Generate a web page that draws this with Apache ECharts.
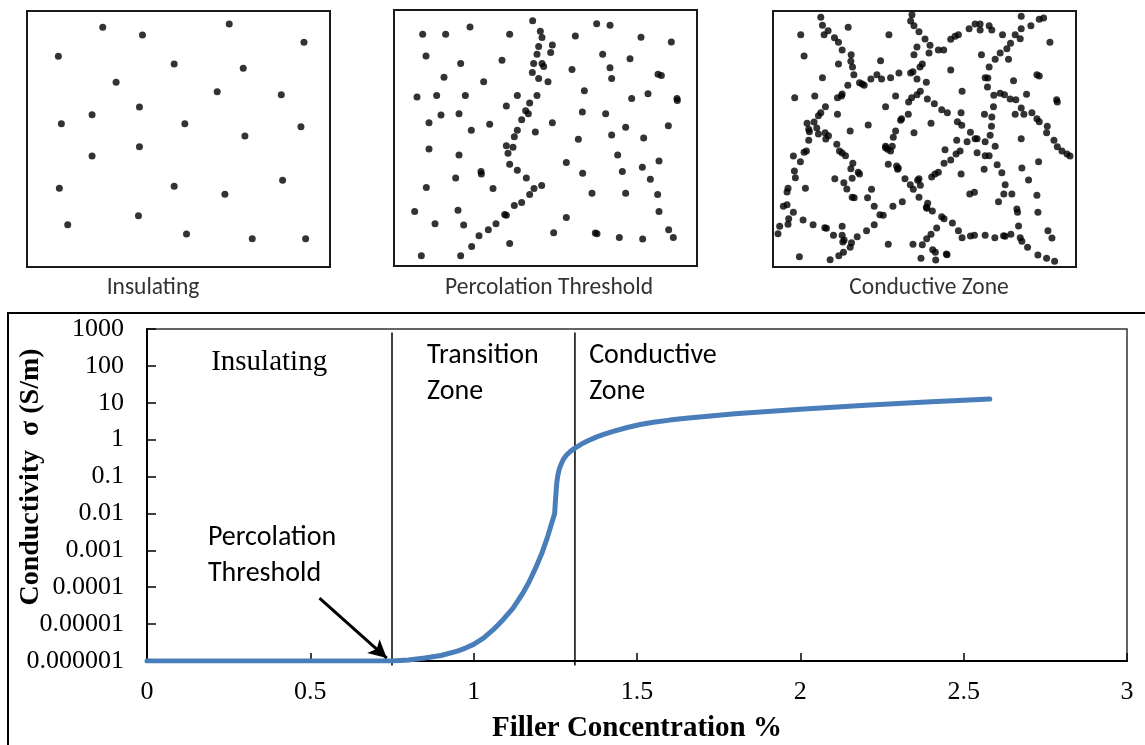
<!DOCTYPE html>
<html>
<head>
<meta charset="utf-8">
<title>Conductivity vs filler concentration</title>
<script src="https://cdn.jsdelivr.net/npm/echarts@6/dist/echarts.min.js"></script>
<style>
  html, body { margin: 0; padding: 0; background: #fff; }
  #main { width: 1145px; height: 745px; }
</style>
</head>
<body>
<div id="main"></div>
<script>
// ---- Percolation curve: conductivity (S/m) against filler concentration (%) ----
const concentration = [0, 0.25, 0.5, 0.75, 0.80, 0.85, 0.90, 0.95, 0.975, 1.00, 1.03, 1.06, 1.09, 1.12, 1.15, 1.17,
  1.19, 1.21, 1.225, 1.236, 1.248, 1.250, 1.252, 1.254, 1.257, 1.262, 1.268, 1.275, 1.285, 1.297, 1.31,
  1.33, 1.35, 1.375, 1.40, 1.43, 1.47, 1.51, 1.55, 1.6, 1.65, 1.7, 1.8, 1.9, 2.0, 2.1, 2.2, 2.3, 2.4, 2.5, 2.58];
const conductivity = [1e-6, 1e-6, 1e-6, 1e-6, 1.07e-6, 1.20e-6, 1.41e-6, 1.86e-6, 2.24e-6, 2.82e-6, 4.17e-6, 7.08e-6,
  1.32e-5, 2.69e-5, 6.76e-5, 1.41e-4, 3.39e-4, 8.91e-4, 2.14e-3, 4.47e-3, 1.0e-2, 0.020, 0.035, 0.063, 0.10, 0.16,
  0.22, 0.30, 0.39, 0.49, 0.59, 0.76, 0.93, 1.17, 1.41, 1.70, 2.14, 2.57, 2.95, 3.39, 3.80, 4.17, 5.01, 5.82, 6.68,
  7.59, 8.51, 9.55, 10.6, 11.7, 12.6];

// zone boundaries (filler %)
const zoneBounds = [0.75, 1.31];

// axis tick labels
const xTickLabels = ['0', '0.5', '1', '1.5', '2', '2.5', '3'];
const yTickLabels = ['0.000001', '0.00001', '0.0001', '0.001', '0.01', '0.1', '1', '10', '100', '1000'];

// ---- Filler particle sketches (positions inside each sample frame) ----
const insulatingDots = [[249,66],[368,89],[628,56],[852,111],[116,153],[463,176],[670,189],[289,231],[592,259],
  [784,268],[359,305],[217,328],[125,355],[495,355],[843,364],[675,392],[359,424],[217,452],[119,549],[463,543],
  [788,525],[615,567],[356,631],[144,658],[500,686],[697,700],[857,700]];

const thresholdDots = [[429,47],[452,79],[457,98],[621,56],[661,61],[99,88],[168,88],[241,66],[360,88],[557,93],
  [754,97],[845,111],[488,120],[447,125],[109,153],[442,148],[483,143],[639,148],[721,162],[213,176],[337,166],
  [432,176],[457,176],[462,185],[547,194],[661,189],[428,203],[163,217],[447,221],[475,231],[282,231],[666,221],
  [805,208],[815,212],[82,277],[141,272],[227,272],[383,272],[442,272],[584,258],[726,281],[775,267],[862,281],
  [863,287],[420,295],[350,304],[154,331],[208,327],[408,318],[416,327],[578,322],[648,327],[118,354],[300,359],
  [396,345],[488,354],[245,377],[383,377],[437,382],[374,396],[708,368],[836,363],[666,391],[762,400],[566,404],
  [118,433],[350,423],[370,428],[355,446],[208,451],[684,451],[360,479],[530,474],[808,469],[383,497],[274,501],
  [275,508],[579,506],[698,501],[758,488],[410,520],[198,520],[110,549],[782,524],[456,543],[433,552],[310,552],
  [420,570],[607,566],[708,566],[804,570],[396,594],[374,603],[75,621],[205,617],[808,621],[345,630],[350,632],
  [530,639],[136,658],[222,662],[319,658],[296,676],[268,694],[492,685],[617,686],[622,688],[837,676],[851,699],
  [689,699],[759,704],[246,726],[360,717],[95,754],[213,754]];

const conductiveDots = [[168,36],[173,60],[190,76],[178,88],[209,97],[221,111],[232,134],[259,148],[258,168],
  [263,185],[267,208],[221,176],[108,88],[118,152],[250,66],[173,217],[90,277],[150,272],[218,277],[230,272],
  [232,266],[249,240],[284,232],[292,236],[298,240],[318,221],[336,208],[350,221],[377,217],[402,203],[372,88],
  [347,166],[441,28],[437,47],[447,61],[462,79],[480,101],[456,125],[447,148],[465,185],[472,176],[444,199],
  [437,203],[456,221],[484,231],[495,120],[520,134],[536,134],[492,143],[557,102],[570,93],[580,88],[612,70],
  [630,56],[645,56],[645,74],[672,61],[680,74],[712,88],[768,33],[822,42],[835,38],[797,61],[768,70],[750,88],
  [765,100],[736,114],[725,130],[705,143],[690,162],[672,185],[660,217],[668,218],[667,245],[649,148],[730,162],
  [854,111],[557,194],[815,208],[822,212],[745,226],[392,272],[362,304],[431,290],[440,277],[456,268],[466,258],
  [487,281],[508,295],[530,313],[547,322],[591,258],[588,322],[577,349],[590,360],[498,354],[447,382],[430,327],
  [410,340],[407,345],[392,377],[385,396],[362,423],[368,432],[377,437],[382,423],[310,359],[256,377],[218,327],
  [182,304],[168,322],[161,331],[148,350],[127,354],[132,372],[134,379],[156,368],[161,386],[181,382],[191,391],
  [183,401],[132,405],[125,437],[118,441],[86,452],[107,469],[89,497],[92,517],[70,549],[67,560],[56,603],
  [67,598],[72,640],[86,621],[45,663],[40,685],[70,657],[115,644],[145,658],[180,667],[185,669],[206,690],
  [232,690],[238,704],[234,710],[256,726],[236,741],[222,751],[196,763],[104,754],[122,549],[210,520],[237,532],
  [246,551],[262,576],[268,577],[280,501],[284,506],[258,490],[264,474],[262,519],[216,417],[224,437],[232,443],
  [242,451],[232,663],[260,712],[277,694],[305,676],[328,658],[355,630],[345,628],[328,603],[308,577],[320,552],
  [362,427],[370,477],[395,482],[398,492],[400,488],[420,520],[436,538],[462,520],[466,540],[458,525],[445,552],
  [412,589],[384,603],[462,576],[488,594],[484,606],[502,617],[530,634],[537,640],[562,653],[580,676],[591,697],
  [616,692],[628,690],[660,690],[689,697],[715,691],[720,693],[737,687],[760,662],[765,697],[770,708],[787,726],
  [818,749],[844,759],[868,768],[848,676],[860,698],[500,515],[510,506],[520,501],[537,474],[557,464],[573,446],
  [585,437],[606,409],[616,381],[630,400],[636,400],[660,409],[675,390],[679,363],[680,335],[685,304],[686,270],
  [705,264],[718,268],[735,281],[752,283],[768,308],[776,327],[784,267],[750,327],[658,327],[575,405],[540,433],
  [636,442],[660,451],[672,451],[690,423],[696,478],[710,502],[720,538],[716,566],[740,566],[700,589],[755,611],
  [757,621],[770,488],[790,524],[815,570],[818,621],[820,469],[657,492],[588,506],[614,566],[628,561],[768,400],
  [800,322],[815,340],[822,349],[846,363],[844,382],[866,405],[876,424],[890,437],[905,446],[914,452],[874,283],
  [876,290],[515,668],[498,687],[485,700],[472,718],[468,759],[444,717],[370,717],[503,733],[511,741],[512,764],
  [544,746],[546,748],[486,609]];

// sample frame extents for each sketch: [xMin, xMax, yMin, yMax]
const frameInsulating = [22, 930, 17, 785];
const frameThreshold = [13, 922, 15, 785];
const frameConductive = [25, 932, 17, 785];

const SERIF = '"Liberation Serif", "Times New Roman", serif';
const SANS = 'Carlito, Lato, "Open Sans", sans-serif';

const chart = echarts.init(document.getElementById('main'), null, { renderer: 'canvas' });

const curve = concentration.map((c, i) => [c, conductivity[i]]);

function sketchGrid(left, top) {
  return { left: left, top: top, width: 303, height: 256, show: true, borderColor: '#1a1a1a', borderWidth: 2 };
}
function sketchX(idx, f) {
  return { gridIndex: idx, type: 'value', min: f[0], max: f[1], show: false };
}
function sketchY(idx, f) {
  return { gridIndex: idx, type: 'value', min: f[2], max: f[3], inverse: true, show: false };
}
function dotsSeries(idx, dots) {
  return {
    type: 'scatter', xAxisIndex: idx, yAxisIndex: idx, data: dots,
    symbol: 'circle', symbolSize: 7, itemStyle: { color: '#000' }, silent: true, animation: false
  };
}
function textNote(x, y, text, font, size, lh) {
  return {
    coord: [x, y], symbol: 'circle', symbolSize: 1, itemStyle: { color: 'rgba(0,0,0,0)' },
    label: {
      show: true, formatter: text, position: [0, 0], align: 'left', verticalAlign: 'top',
      fontFamily: font, fontSize: size, lineHeight: lh, color: '#000'
    }
  };
}
function caption(x, text) {
  return {
    type: 'text', silent: true, x: x, y: 288,
    style: { text: text, fontFamily: SANS, fontSize: 23.5, fill: '#333', textAlign: 'center', textVerticalAlign: 'middle' }
  };
}

const option = {
  animation: false,
  backgroundColor: '#fff',
  grid: [
    { left: 147, top: 329, width: 980, height: 332, show: true, borderColor: '#333', borderWidth: 1.5 },
    sketchGrid(27, 11),
    sketchGrid(394, 10),
    sketchGrid(773, 11)
  ],
  xAxis: [
    {
      gridIndex: 0, type: 'value', min: 0, max: 3, interval: 0.5,
      axisLine: { show: true, lineStyle: { color: '#000', width: 2 } },
      axisTick: { show: true, inside: true, length: 8, lineStyle: { color: '#000', width: 1.5 } },
      axisLabel: {
        fontFamily: SERIF, fontSize: 26, color: '#000', margin: 18,
        formatter: (v) => xTickLabels[Math.round(v * 2)]
      },
      splitLine: { show: false },
      name: 'Filler Concentration %', nameLocation: 'middle', nameGap: 53,
      nameTextStyle: { fontFamily: SERIF, fontSize: 29, fontWeight: 'bold', color: '#000' }
    },
    sketchX(1, frameInsulating),
    sketchX(2, frameThreshold),
    sketchX(3, frameConductive)
  ],
  yAxis: [
    {
      gridIndex: 0, type: 'log', logBase: 10, min: 1e-6, max: 1000, splitNumber: 9,
      axisLine: { show: true, lineStyle: { color: '#000', width: 2 } },
      axisTick: { show: true, inside: true, length: 9, lineStyle: { color: '#000', width: 1.5 } },
      axisLabel: {
        fontFamily: SERIF, fontSize: 26, color: '#000', margin: 23,
        formatter: (v) => yTickLabels[Math.round(Math.log10(v)) + 6]
      },
      splitLine: { show: false },
      minorTick: { show: false }
    },
    sketchY(1, frameInsulating),
    sketchY(2, frameThreshold),
    sketchY(3, frameConductive)
  ],
  series: [
    // zone dividers
    ...zoneBounds.map((b) => ({
      type: 'line', xAxisIndex: 0, yAxisIndex: 0, clip: false, silent: true,
      data: [[b, 800], [b, 7.6e-7]], symbol: 'none',
      lineStyle: { color: '#000', width: 1.5 }, z: 3
    })),
    {
      type: 'line', xAxisIndex: 0, yAxisIndex: 0, data: curve,
      showSymbol: false, symbol: 'none', smooth: false,
      lineStyle: { color: '#4a7ebb', width: 5, cap: 'round', join: 'round' }, z: 4,
      markLine: {
        silent: true, animation: false,
        label: { show: false },
        data: [[
          { coord: [0.528, 5.1e-5], symbol: 'none', lineStyle: { color: '#000', width: 3, type: 'solid' } },
          { coord: [0.734, 1.2e-6], symbol: 'arrow', symbolSize: [14, 18] }
        ]]
      },
      markPoint: {
        silent: true, animation: false,
        data: [
          textNote(0.198, 325, 'Insulating', SERIF, 29, 32),
          textNote(0.859, 570, 'Transition\nZone', SANS, 28, 36),
          textNote(1.355, 570, 'Conductive\nZone', SANS, 28, 36),
          textNote(0.188, 0.00627, 'Percolation\nThreshold', SANS, 28, 36)
        ]
      }
    },
    dotsSeries(1, insulatingDots),
    dotsSeries(2, thresholdDots),
    dotsSeries(3, conductiveDots)
  ],
  graphic: [
    // chart area frame
    { type: 'rect', silent: true, z: -1, shape: { x: 8, y: 313, width: 1160, height: 460 },
      style: { fill: 'none', stroke: '#000', lineWidth: 2 } },
    // y-axis title
    { type: 'text', silent: true, x: 31, y: 477, rotation: Math.PI / 2,
      style: { text: 'Conductivity  σ (S/m)', fontFamily: SERIF, fontSize: 28, fontWeight: 'bold',
        fill: '#000', textAlign: 'center', textVerticalAlign: 'middle' } },
    // sketch captions
    caption(153, 'Insulating'),
    caption(549, 'Percolation Threshold'),
    caption(929, 'Conductive Zone')
  ]
};

chart.setOption(option);
</script>
</body>
</html>
